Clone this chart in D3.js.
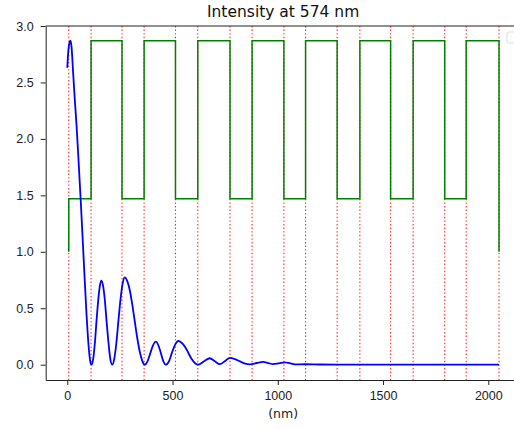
<!DOCTYPE html>
<html>
<head>
<meta charset="utf-8">
<script src="https://cdn.jsdelivr.net/npm/d3@7"></script>
<style>
  body { margin: 0; background: #fff; }
  svg { display: block; font-family: "DejaVu Sans", sans-serif; }
  .tick text { fill: #222; font-size: 12.5px; }
  .domain, .tick line { stroke: #222; }
</style>
</head>
<body>
<svg id="chart" width="514" height="429"></svg>
<script>
// layer boundaries (nm) and refractive index of each layer
const boundaries = [7, 113, 260, 365, 514, 620, 773, 878, 1029, 1132, 1282, 1390, 1536, 1643, 1793, 1895, 2051];
const layerIndex = [1.47, 2.87, 1.47, 2.87, 1.47, 2.87, 1.47, 2.87, 1.47, 2.87, 1.47, 2.87, 1.47, 2.87, 1.47, 2.87];
const outsideIndex = 1.0;

// intensity along depth
const posX = [0, 5, 10, 15, 20, 28, 36, 44, 52, 64, 78, 91, 102, 109, 115,
  123, 131, 139, 147, 155, 162, 170, 178, 187, 196, 205, 213,
  223, 233, 243, 253, 263, 273, 285, 297, 309, 321, 333, 345, 357, 368,
  381, 394, 407, 421, 433, 445, 457, 468, 483, 498, 513, 527, 543, 559, 575, 591, 607, 622,
  650, 677, 701, 725, 748, 772, 796, 820, 845, 867,
  900, 930, 955, 977, 1005, 1034, 1060, 1089, 1130, 1200, 1300, 1500, 2051];
const intensity = [2.63, 2.78, 2.85, 2.87, 2.82, 2.58, 2.34, 2.12, 1.86, 1.45, 0.93, 0.46, 0.15, 0.03, 0.0,
  0.05, 0.19, 0.39, 0.57, 0.70, 0.744, 0.70, 0.58, 0.38, 0.19, 0.045, 0.0,
  0.05, 0.19, 0.39, 0.58, 0.72, 0.774, 0.74, 0.66, 0.53, 0.38, 0.23, 0.11, 0.03, 0.0,
  0.03, 0.10, 0.17, 0.204, 0.17, 0.10, 0.027, 0.0, 0.03, 0.11, 0.18, 0.21, 0.195, 0.16, 0.105, 0.05, 0.013, 0.0,
  0.03, 0.057, 0.03, 0.005, 0.03, 0.06, 0.05, 0.03, 0.01, 0.003,
  0.015, 0.025, 0.015, 0.005, 0.012, 0.02, 0.012, 0.003, 0.004, 0.002, 0.001, 0.0, 0.0];

const xTicks = [0, 500, 1000, 1500, 2000];
const yTicks = [0, 0.5, 1.0, 1.5, 2.0, 2.5, 3.0];

const margin = { left: 45.7, top: 26, right: 520.6, bottom: 380 };
const svg = d3.select('#chart');

const x = d3.scaleLinear().domain([-102.5, 2153.5]).range([margin.left, margin.right]);
const y = d3.scaleLinear().domain([-0.1355, 3.0]).range([margin.bottom, margin.top]);

// red dotted interface lines
svg.append('g')
  .selectAll('line')
  .data(boundaries)
  .enter()
  .append('line')
  .attr('x1', d => x(d))
  .attr('x2', d => x(d))
  .attr('y1', margin.top)
  .attr('y2', margin.bottom)
  .attr('stroke', 'red')
  .attr('stroke-width', 1.1)
  .attr('stroke-dasharray', '1.4,2.2')
  .attr('opacity', 0.85);

// refractive index profile as steps
const stepPts = [[boundaries[0], outsideIndex]];
layerIndex.forEach((n, i) => stepPts.push([boundaries[i], n]));
stepPts.push([boundaries[boundaries.length - 1], outsideIndex]);

svg.append('path')
  .datum(stepPts)
  .attr('fill', 'none')
  .attr('stroke', 'green')
  .attr('stroke-width', 1.5)
  .attr('d', d3.line().x(d => x(d[0])).y(d => y(d[1])).curve(d3.curveStepAfter));

// intensity curve
svg.append('path')
  .datum(posX.map((d, i) => [d, intensity[i]]))
  .attr('fill', 'none')
  .attr('stroke', 'blue')
  .attr('stroke-width', 1.8)
  .attr('stroke-linejoin', 'round')
  .attr('d', d3.line().x(d => x(d[0])).y(d => y(d[1])).curve(d3.curveMonotoneX));

// axes
svg.append('g')
  .attr('transform', `translate(0,${margin.bottom})`)
  .call(d3.axisBottom(x).tickValues(xTicks).tickSize(5).tickPadding(6).tickSizeOuter(0).tickFormat(d3.format('d')));

svg.append('g')
  .attr('transform', `translate(${margin.left},0)`)
  .call(d3.axisLeft(y).tickValues(yTicks).tickSize(5).tickPadding(7).tickSizeOuter(0).tickFormat(d3.format('.1f')));

// top and right spines
svg.append('line')
  .attr('x1', margin.left).attr('x2', margin.right)
  .attr('y1', margin.top).attr('y2', margin.top)
  .attr('stroke', '#222');
svg.append('line')
  .attr('x1', margin.right).attr('x2', margin.right)
  .attr('y1', margin.top).attr('y2', margin.bottom)
  .attr('stroke', '#222');

// empty legend box
svg.append('rect')
  .attr('x', 507).attr('y', 32)
  .attr('width', 12).attr('height', 11)
  .attr('rx', 2)
  .attr('fill', '#fff')
  .attr('stroke', '#ddd');

svg.append('text')
  .attr('x', (margin.left + margin.right) / 2)
  .attr('y', 16.5)
  .attr('text-anchor', 'middle')
  .attr('font-size', 15.5)
  .attr('fill', '#111')
  .text('Intensity at 574 nm');

svg.append('text')
  .attr('x', (margin.left + margin.right) / 2)
  .attr('y', 418)
  .attr('text-anchor', 'middle')
  .attr('font-size', 12.5)
  .attr('fill', '#222')
  .text('(nm)');
</script>
</body>
</html>
